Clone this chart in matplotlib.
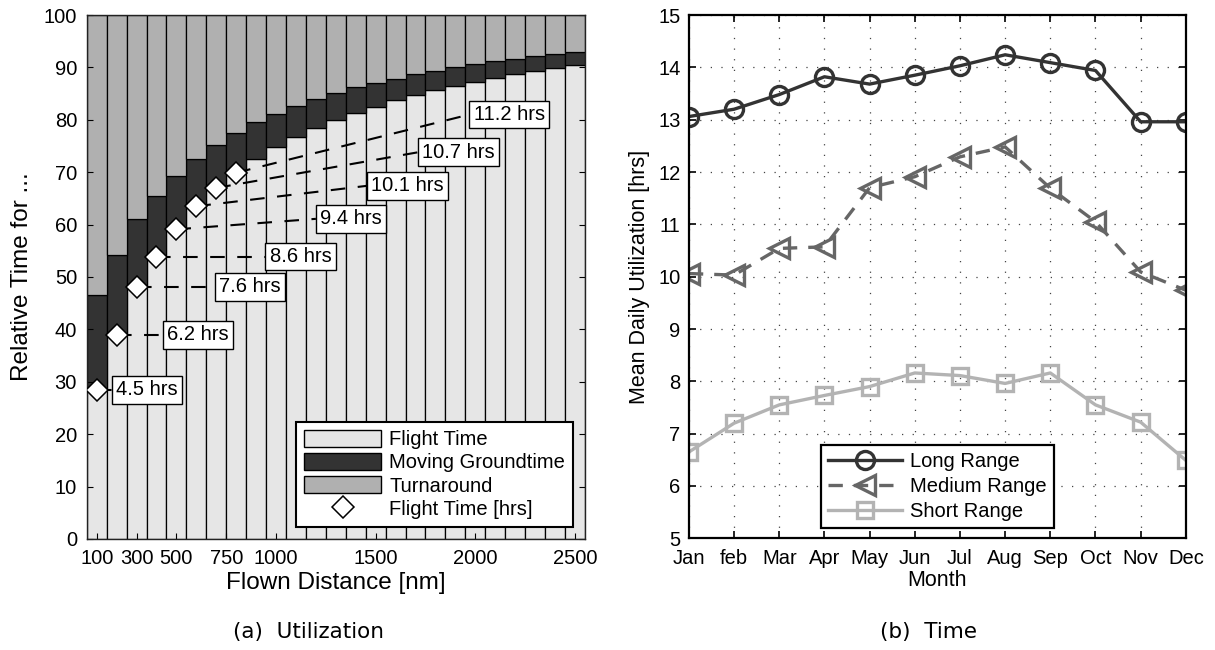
import matplotlib
matplotlib.use('Agg')
import matplotlib.pyplot as plt
from matplotlib.patches import Patch
from matplotlib.lines import Line2D
import numpy as np

plt.rcParams['font.family'] = ['Liberation Sans', 'DejaVu Sans']

# (a) utilization data
distance = [100, 200, 300, 400, 500, 600, 700, 800, 900, 1000, 1100, 1200, 1300,
            1400, 1500, 1600, 1700, 1800, 1900, 2000, 2100, 2200, 2300, 2400, 2500]
flight = [28.5, 39.0, 48.1, 53.9, 59.1, 63.5, 67.0, 69.9, 72.5, 74.8, 76.8, 78.5, 80.0,
          81.3, 82.5, 83.7, 84.7, 85.6, 86.5, 87.3, 88.0, 88.8, 89.4, 89.9, 90.4]
moving = [18.0, 15.2, 12.9, 11.6, 10.2, 9.1, 8.2, 7.6, 7.0, 6.3, 5.9, 5.4, 5.1,
          4.9, 4.5, 4.1, 4.0, 3.8, 3.5, 3.3, 3.2, 2.9, 2.8, 2.7, 2.6]
turnaround = [100 - f - m for f, m in zip(flight, moving)]
hrs_labels = ['4.5 hrs', '6.2 hrs', '7.6 hrs', '8.6 hrs', '9.4 hrs', '10.1 hrs', '10.7 hrs', '11.2 hrs']
label_x = [176, 431, 692, 946, 1200, 1456, 1712, 1970]
label_y = [28.5, 39.0, 48.1, 53.9, 61.1, 67.4, 73.8, 81.0]
dist_ticks = [100, 300, 500, 750, 1000, 1500, 2000, 2500]

# (b) time data
months = ['Jan', 'feb', 'Mar', 'Apr', 'May', 'Jun', 'Jul', 'Aug', 'Sep', 'Oct', 'Nov', 'Dec']
long_range = [13.06, 13.20, 13.48, 13.82, 13.68, 13.85, 14.03, 14.24, 14.09, 13.94, 12.96, 12.96]
medium_range = [10.06, 10.03, 10.54, 10.57, 11.70, 11.91, 12.29, 12.48, 11.69, 11.05, 10.09, 9.74]
short_range = [6.65, 7.20, 7.55, 7.73, 7.90, 8.16, 8.11, 7.96, 8.16, 7.55, 7.22, 6.49]

c_flight = '#e6e6e6'
c_moving = '#333333'
c_turn = '#b0b0b0'
fs = 14.5

fig = plt.figure(figsize=(12.15, 6.5), dpi=100)

# ---- left: utilization ----
ax1 = fig.add_axes([0.0714, 0.1708, 0.410, 0.8061])
ax1.bar(distance, flight, width=100, color=c_flight, edgecolor='black', linewidth=0.9)
ax1.bar(distance, moving, width=100, bottom=flight, color=c_moving, edgecolor='black', linewidth=0.9)
bot2 = [f + m for f, m in zip(flight, moving)]
ax1.bar(distance, turnaround, width=100, bottom=bot2, color=c_turn, edgecolor='black', linewidth=0.9)

for i in range(len(hrs_labels)):
    ax1.plot([distance[i], label_x[i]], [flight[i], label_y[i]], color='black',
             linewidth=1.5, dashes=(7, 6), zorder=3)
    ax1.text(label_x[i] + 22, label_y[i], hrs_labels[i], fontsize=fs, ha='left', va='center',
             zorder=5, bbox=dict(boxstyle='square,pad=0.22', facecolor='white',
                                 edgecolor='black', linewidth=1))
ax1.plot(distance[:len(hrs_labels)], flight[:len(hrs_labels)], linestyle='none', marker='D',
         markersize=11, markerfacecolor='white', markeredgecolor='black',
         markeredgewidth=1.1, zorder=4)

ax1.set_xlim(50, 2550)
ax1.set_ylim(0, 100)
ax1.set_xticks(dist_ticks)
ax1.set_yticks(range(0, 101, 10))
ax1.tick_params(direction='in', labelsize=fs, top=False, right=True, length=4, pad=7)
for s in ax1.spines.values():
    s.set_linewidth(1.0)
    s.set_color('#222222')
ax1.set_xlabel('Flown Distance [nm]', fontsize=17.5, labelpad=3)
ax1.set_ylabel('Relative Time for ...', fontsize=17.5, labelpad=8)

handles1 = [Patch(facecolor=c_flight, edgecolor='black', label='Flight Time'),
            Patch(facecolor=c_moving, edgecolor='black', label='Moving Groundtime'),
            Patch(facecolor=c_turn, edgecolor='black', label='Turnaround'),
            Line2D([], [], linestyle='none', marker='D', markersize=11, markerfacecolor='white',
                   markeredgecolor='black', markeredgewidth=1.1, label='Flight Time [hrs]')]
leg1 = ax1.legend(handles=handles1, loc='lower right', bbox_to_anchor=(0.976, 0.023),
                  borderaxespad=0, fontsize=fs, fancybox=False, framealpha=1,
                  edgecolor='black', handlelength=3.8, handleheight=0.95,
                  labelspacing=0.18, handletextpad=0.4, borderpad=0.4)
leg1.get_frame().set_linewidth(1.5)

# ---- right: time ----
ax2 = fig.add_axes([0.567, 0.1718, 0.409, 0.8051])
x = np.arange(len(months))
ax2.plot(x, long_range, color='#333333', linewidth=2.4, marker='o', markersize=13,
         markerfacecolor='none', markeredgewidth=2.4, label='Long Range')
ax2.plot(x, medium_range, color='#666666', linewidth=2.4, dashes=(4.3, 3.3), marker='<',
         markersize=14, markerfacecolor='none', markeredgewidth=2.4, label='Medium Range')
ax2.plot(x, short_range, color='#b3b3b3', linewidth=2.4, marker='s', markersize=11,
         markerfacecolor='none', markeredgewidth=2.4, label='Short Range')
ax2.set_xlim(0, len(months) - 1)
ax2.set_ylim(5, 15)
ax2.set_xticks(x)
ax2.set_xticklabels(months)
ax2.set_yticks(range(5, 16))
ax2.grid(True, color='#444444', linewidth=0.9, linestyle=(0, (1, 7.5)))
ax2.tick_params(direction='in', labelsize=fs, top=True, right=True, length=5, width=1.2)
ax2.tick_params(axis='x', pad=8)
ax2.tick_params(axis='y', pad=6)
for s in ax2.spines.values():
    s.set_linewidth(1.6)
ax2.set_xlabel('Month', fontsize=15.5, labelpad=1)
ax2.set_ylabel('Mean Daily Utilization [hrs]', fontsize=15.5, labelpad=6)
leg2 = ax2.legend(loc='lower center', bbox_to_anchor=(0.5, 0.02), borderaxespad=0,
                  fontsize=fs, fancybox=False, framealpha=1, edgecolor='black',
                  handlelength=3.7, labelspacing=0.3, handletextpad=0.4, borderpad=0.35)
leg2.get_frame().set_linewidth(1.6)

fig.text(0.254, 1 - 632 / 650, '(a)  Utilization', fontsize=15.5, family='DejaVu Sans',
         ha='center', va='center')
fig.text(928 / 1215, 1 - 632 / 650, '(b)  Time', fontsize=15.5, family='DejaVu Sans',
         ha='center', va='center')

fig.savefig('out.png', dpi=100)
